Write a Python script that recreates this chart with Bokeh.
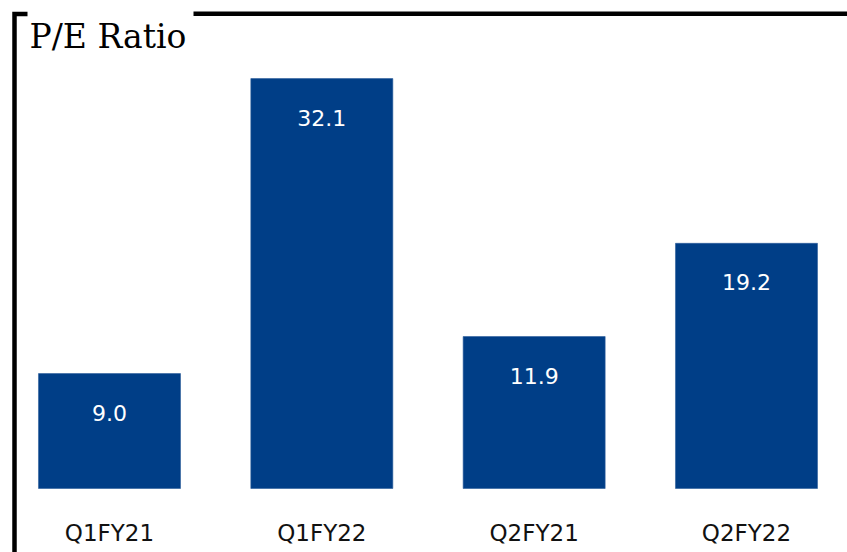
from bokeh.plotting import figure
from bokeh.models import Range1d
from bokeh.core.properties import value
from bokeh.embed import file_html
from bokeh.resources import INLINE

# ---- data ----
categories = ["Q1FY21", "Q1FY22", "Q2FY21", "Q2FY22"]
pe_ratio = [9.0, 32.1, 11.9, 19.2]
title_text = "P/E Ratio"

# ---- layout helpers (image pixel -> data coordinates) ----
W, H = 847, 552
OFF = 0                     # canvas origin in the screenshot
X0, SX = 2.83, 212.33       # image x of category origin, px per category
Y0, SY = 488.0, 12.77       # image y of zero, px per unit


def ux(px):
    return (px - X0) / SX


def vy(py):
    return (Y0 - py) / SY


p = figure(width=W, height=H, output_backend="svg", toolbar_location=None,
           x_range=Range1d(ux(OFF), ux(OFF + W)),
           y_range=Range1d(vy(OFF + H), vy(OFF)),
           min_border=0, x_axis_type=None, y_axis_type=None)
p.grid.visible = False
p.outline_line_color = None
p.background_fill_color = "white"
p.border_fill_color = "white"

xs = [i + 0.5 for i in range(len(categories))]

p.vbar(x=xs, top=pe_ratio, bottom=0, width=142 / SX,
       fill_color="#003E87", line_color="#2a5c9a", line_width=0.6)

# value labels inside bars
p.text(x=xs, y=[v - 39 / SY for v in pe_ratio],
       text=[f"{v:.1f}" for v in pe_ratio],
       text_align="center", text_baseline="alphabetic",
       text_color="white", text_font=value("DejaVu Sans"),
       text_font_size="22px")

# category labels
p.text(x=xs, y=[vy(532)] * len(categories), text=categories,
       text_align="center", text_baseline="alphabetic",
       text_color="#111111", text_font=value("DejaVu Sans"),
       text_font_size="23px")

# frame decoration: left border with corner, and top rule after the title
p.line(x=[ux(27), ux(14), ux(14)], y=[vy(13.5), vy(13.5), vy(570)],
       line_color="black", line_width=4.5, line_join="miter")
p.line(x=[ux(193), ux(870)], y=[vy(13.2), vy(13.2)],
       line_color="black", line_width=4.5)

# title
p.text(x=[ux(29)], y=[vy(36)], text=[title_text],
       text_align="left", text_baseline="alphabetic",
       text_color="black", text_font=value("DejaVu Serif"),
       text_font_size="33px")

open("out.html", "w").write(file_html(p, INLINE))
